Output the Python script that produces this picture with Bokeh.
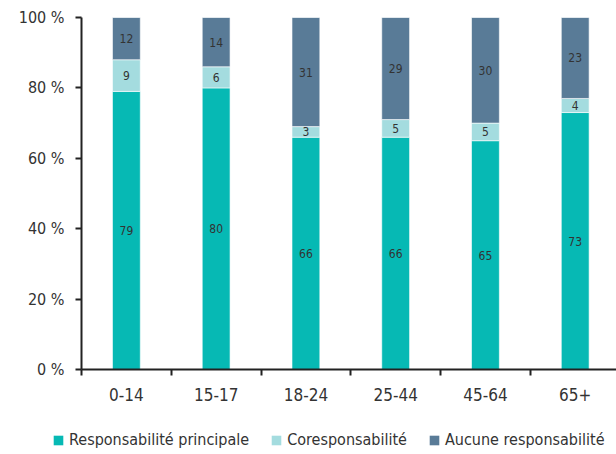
from bokeh.plotting import figure
from bokeh.layouts import column
from bokeh.models import ColumnDataSource, Range1d, FixedTicker, Legend, LegendItem
from bokeh.core.properties import value
from bokeh.embed import file_html
from bokeh.resources import INLINE

categories = ["0-14", "15-17", "18-24", "25-44", "45-64", "65+"]
principale = [79, 80, 66, 66, 65, 73]
coresp = [9, 6, 3, 5, 5, 4]
aucune = [12, 14, 31, 29, 30, 23]
series_names = ["Responsabilité principale", "Coresponsabilité", "Aucune responsabilité"]
colors = ["#06b9b4", "#a4dcdf", "#597b97"]
y_ticks = [0, 20, 40, 60, 80, 100]

FONT = "DejaVu Sans Condensed"
TXT = "#333333"

xs = [i + 0.5 for i in range(len(categories))]
src = ColumnDataSource(dict(x=xs, principale=principale, coresp=coresp, aucune=aucune))

p = figure(width=616, height=420, output_backend="svg", toolbar_location=None,
           x_range=Range1d(0, 5.96), y_range=Range1d(0, 100),
           min_border_left=81, min_border_right=0, min_border_top=17, min_border_bottom=51)
p.frame_align = False
p.outline_line_color = None
p.grid.visible = False
p.background_fill_color = "white"

renderers = p.vbar_stack(["principale", "coresp", "aucune"], x="x", width=0.31,
                         color=colors, line_color="white", line_width=0.6, source=src)

# segment labels
lx, ly, lt = [], [], []
for i in range(len(categories)):
    base = 0
    for vals in (principale, coresp, aucune):
        v = vals[i]
        lx.append(xs[i]); ly.append(base + v / 2); lt.append(str(v))
        base += v
p.text(x=lx, y=ly, text=lt, text_align="center", text_baseline="middle",
       text_font=value(FONT), text_font_size="12px", text_color=TXT)

# axes
xa = p.xaxis[0]
xa.ticker = FixedTicker(ticks=xs, minor_ticks=list(range(0, 7)))
xa.major_label_overrides = {x: c for x, c in zip(xs, categories)}
xa.major_tick_line_color = None
xa.minor_tick_in = 0
xa.minor_tick_out = 6
xa.minor_tick_line_color = "#222222"
xa.minor_tick_line_width = 2
xa.axis_line_color = "#222222"
xa.axis_line_width = 2
xa.major_label_text_font = FONT
xa.major_label_text_font_size = "17px"
xa.major_label_text_color = TXT
xa.major_label_standoff = 12

ya = p.yaxis[0]
ya.ticker = FixedTicker(ticks=y_ticks)
ya.major_label_overrides = {t: f"{t} %" for t in y_ticks}
ya.minor_tick_line_color = None
ya.major_tick_in = 0
ya.major_tick_out = 6
ya.major_tick_line_color = "#222222"
ya.major_tick_line_width = 2
ya.axis_line_color = "#222222"
ya.axis_line_width = 2
ya.major_label_text_font = FONT
ya.major_label_text_font_size = "16px"
ya.major_label_text_color = TXT
ya.major_label_standoff = 11

# legend figure (frame alignment with the main plot disabled)
lf = figure(width=616, height=34, output_backend="svg", toolbar_location=None,
            x_range=Range1d(0, 1), y_range=Range1d(0, 1),
            x_axis_location=None, y_axis_location=None,
            min_border_left=0, min_border_right=0, min_border_top=0, min_border_bottom=0)
lf.frame_align = False
lf.grid.visible = False
lf.outline_line_color = None
dummy = [lf.vbar(x=[5], top=[5], width=1, color=c, line_color=None) for c in colors]
legend = Legend(items=[LegendItem(label=n, renderers=[r]) for n, r in zip(series_names, dummy)],
                orientation="horizontal", location=(52, 5),
                label_text_font=FONT, label_text_font_size="16px", label_text_color=TXT,
                glyph_width=12, glyph_height=12, spacing=21, label_standoff=5,
                border_line_color=None, background_fill_alpha=0, padding=0, margin=0)
lf.add_layout(legend, "center")

layout = column(p, lf, spacing=0)
open("out.html", "w").write(file_html(layout, INLINE))
